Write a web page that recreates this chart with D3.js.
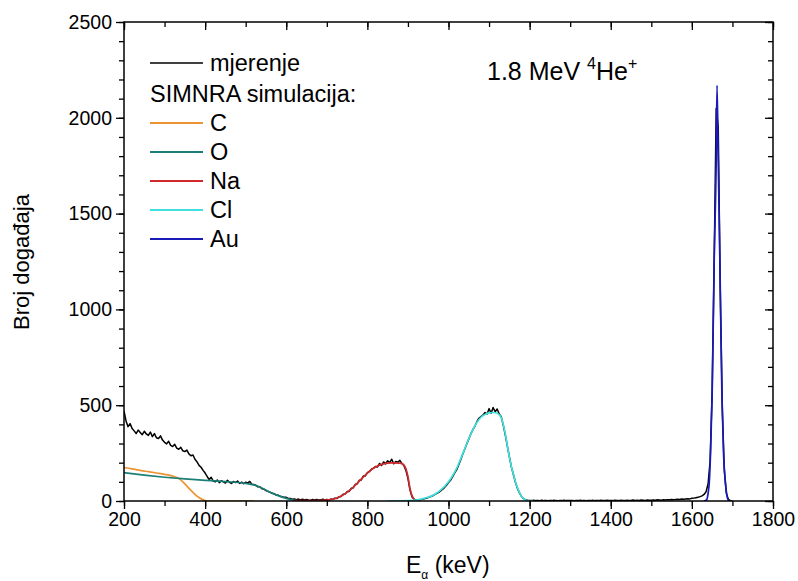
<!DOCTYPE html>
<html><head><meta charset="utf-8">
<script src="https://cdn.jsdelivr.net/npm/d3@7"></script>
<style>
body{margin:0;background:#fff;}
text{font-family:"Liberation Sans",Arial,sans-serif;fill:#000;}
</style></head>
<body><svg id="chart" width="798" height="581"></svg>
<script>
// Measured spectrum: counts every 5 keV, 200..1700 keV
const measStart = 200, measStep = 5;
const measured = [
 470,418,388,404,378,366,352,370,358,346,364,350,342,360,336,352,330,326,340,318,
 306,298,312,290,284,296,276,270,280,262,258,266,246,236,240,218,204,186,176,160,
 146,128,112,124,104,100,110,96,106,100,94,108,98,92,102,96,104,92,98,90,
 98,94,102,88,86,82,74,74,64,62,54,50,46,40,38,31,30,25,22,19,
 19,13,13,9,10,7,10,5,9,5,8,5,4,8,5,8,5,6,9,5,
 8,5,10,8,15,13,22,24,35,36,49,50,66,68,86,90,108,110,130,131,
 148,154,166,172,180,178,196,186,204,194,210,200,218,194,206,202,212,196,186,160,
 118,58,22,9,6,5,7,9,12,14,18,22,26,32,38,44,52,60,70,82,
 96,108,126,146,162,188,214,244,270,298,324,350,372,390,414,432,440,448,462,454,
 482,458,488,466,480,454,440,396,345,288,232,178,138,98,66,42,24,12,6,4,
 3,2,4,2,3,1,4,2,3,1,3,2,4,2,1,3,2,4,2,3,
 2,3,1,3,2,4,2,3,1,3,2,4,2,3,2,4,3,2,4,3,
 3,2,4,3,2,4,3,2,4,3,3,5,3,4,3,5,4,3,5,4,
 4,5,4,6,5,4,6,5,7,6,8,7,8,9,8,10,9,11,12,11,
 14,15,17,19,23,27,34,48,90,210,570,1250,2050,1950,1100,480,160,40,8,2,0
];
// SIMNRA simulation series (energy keV, counts)
const cE  = [200,220,240,260,280,300,320,335,345,355,365,375,385,395,405,420,520];
const cY  = [175,168,160,153,146,139,130,118,100,78,55,35,18,6,0,0,0];
const oE  = [200,250,300,350,400,450,500,520,540,560,580,600,620,630];
const oY  = [148,135,124,115,108,101,92,84,68,46,28,14,4,0];
const naE = [620,650,700,720,740,760,780,800,820,840,860,880,888,895,900,905,910,915,920,930];
const naY = [2,2,5,12,31,62,104,146,178,194,199,198,192,168,128,65,28,10,3,0];
const clE = [850,900,920,940,960,980,1000,1010,1020,1030,1040,1050,1060,1070,1080,1090,1100,1110,1120,1125,1130,1135,1140,1145,1150,1155,1160,1165,1170,1175,1180,1185,1190,1200,1210];
const clY = [0,2,5,14,28,55,100,132,170,220,272,325,372,410,437,452,460,462,458,450,435,400,350,290,230,180,140,100,70,45,25,12,5,0,0];
const auE = [1630,1636,1640,1643,1646,1650,1655,1660,1662,1665,1669,1674,1678,1682,1686,1690,1695];
const auY = [0,5,40,100,250,563,1258,1780,2170,1780,1258,563,250,110,35,5,0];

const xTicks = [200,400,600,800,1000,1200,1400,1600,1800];
const yTicks = [0,500,1000,1500,2000,2500];
const legendNames = ["mjerenje","C","O","Na","Cl","Au"];
const colors = {mjerenje:"#000000", C:"#ec9434", O:"#1b7f78", Na:"#d02a2c", Cl:"#3fe0de", Au:"#1a1ab8"};

const svg = d3.select("#chart");
const x = d3.scaleLinear().domain([200,1800]).range([124,773]);
const y = d3.scaleLinear().domain([0,2500]).range([501,22]);

svg.append("defs").append("clipPath").attr("id","clip")
  .append("rect").attr("x",124).attr("y",22).attr("width",649).attr("height",479);

const line = d3.line().x(d=>x(d[0])).y(d=>y(d[1]));
const sline = d3.line().x(d=>x(d[0])).y(d=>y(d[1])).curve(d3.curveMonotoneX);

const g = svg.append("g").attr("clip-path","url(#clip)");
const measPts = measured.map((v,i)=>[measStart+i*measStep, v]);
g.append("path").datum(measPts).attr("d",line).attr("fill","none")
  .attr("stroke",colors.mjerenje).attr("stroke-width",1.5).attr("stroke-linejoin","round");

const sims = [["C",cE,cY],["O",oE,oY],["Na",naE,naY],["Cl",clE,clY],["Au",auE,auY]];
sims.forEach(([n,E,Y])=>{
  g.append("path").datum(E.map((e,i)=>[e,Y[i]])).attr("d",sline).attr("fill","none")
   .attr("stroke",colors[n]).attr("stroke-width",1.7).attr("stroke-linejoin","round");
});

// Axes
const minorX = d3.range(200,1801,100);
const minorY = d3.range(0,2501,100);
svg.append("g").attr("transform","translate(0,501)")
  .call(d3.axisBottom(x).tickValues(minorX).tickSize(5).tickFormat(""));
svg.append("g").attr("transform","translate(0,501)")
  .call(d3.axisBottom(x).tickValues(xTicks).tickSize(8).tickPadding(3).tickFormat(d3.format("d")));
svg.append("g").attr("transform","translate(124,0)")
  .call(d3.axisLeft(y).tickValues(minorY).tickSize(5).tickFormat(""));
svg.append("g").attr("transform","translate(124,0)")
  .call(d3.axisLeft(y).tickValues(yTicks).tickSize(8).tickPadding(4).tickFormat(d3.format("d")));
svg.append("g").attr("transform","translate(0,22)")
  .call(d3.axisBottom(x).tickValues(minorX).tickSize(5).tickFormat(""));
svg.append("g").attr("transform","translate(0,22)")
  .call(d3.axisBottom(x).tickValues(xTicks).tickSize(8).tickFormat(""));
svg.append("g").attr("transform","translate(773,0)")
  .call(d3.axisLeft(y).tickValues(minorY).tickSize(5).tickFormat(""));
svg.append("g").attr("transform","translate(773,0)")
  .call(d3.axisLeft(y).tickValues(yTicks).tickSize(8).tickFormat(""));
svg.selectAll(".domain").remove();
svg.selectAll(".tick line").attr("stroke","#000").attr("stroke-width",1.3);
svg.selectAll(".tick text").style("font-size","19.5px").style("font-family","'Liberation Sans',Arial,sans-serif").attr("fill","#000");

svg.append("rect").attr("x",124).attr("y",22).attr("width",649).attr("height",479)
  .attr("fill","none").attr("stroke","#000").attr("stroke-width",1.5);

// Axis titles
svg.append("text").attr("transform","translate(29,262) rotate(-90)").attr("text-anchor","middle")
  .style("font-size","22px").text("Broj događaja");
const xt = svg.append("text").attr("x",406).attr("y",573).style("font-size","23px");
xt.append("tspan").text("E");
xt.append("tspan").attr("dy",6).style("font-size","12px").text("α");
xt.append("tspan").attr("dy",-6).text(" (keV)");

// Annotation
const an = svg.append("text").attr("x",487).attr("y",80).style("font-size","25px");
an.append("tspan").text("1.8 MeV ");
an.append("tspan").attr("dy",-11).style("font-size","16px").text("4");
an.append("tspan").attr("dy",11).text("He");
an.append("tspan").attr("dy",-11).style("font-size","16px").text("+");

// Legend
const lg = svg.append("g");
const rows = [["mjerenje",63],["SIMNRA simulacija:",94],["C",123],["O",152],["Na",181],["Cl",210],["Au",239]];
rows.forEach(([name,yy])=>{
  if (legendNames.includes(name)) {
    lg.append("line").attr("x1",150).attr("x2",203).attr("y1",yy).attr("y2",yy)
      .attr("stroke",colors[name]).attr("stroke-width",name==="mjerenje"?1.5:2);
    lg.append("text").attr("x",210).attr("y",yy+8).style("font-size","23.5px").text(name);
  } else {
    lg.append("text").attr("x",150).attr("y",yy+8).style("font-size","23.5px").text(name);
  }
});
</script></body></html>
